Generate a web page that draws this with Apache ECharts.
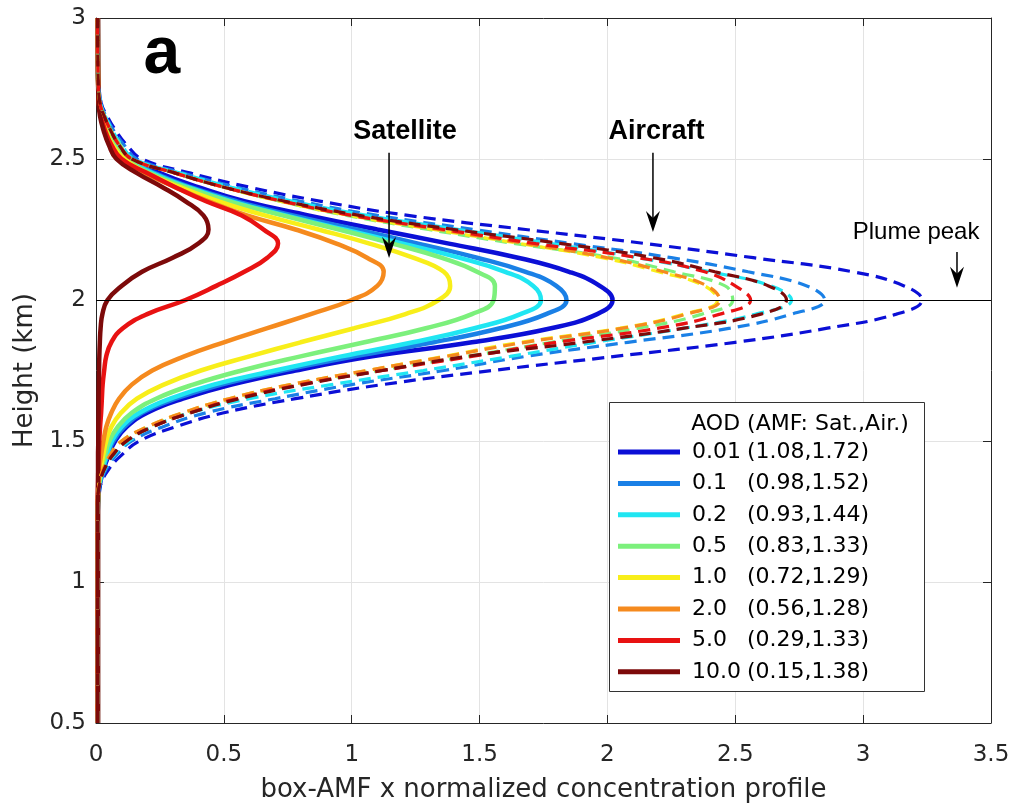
<!DOCTYPE html>
<html>
<head>
<meta charset="utf-8">
<script src="https://cdn.jsdelivr.net/npm/echarts@6/dist/echarts.min.js"></script>
<style>
html,body{margin:0;padding:0;background:#fff;}
#chart{width:1014px;height:809px;}
</style>
</head>
<body>
<div id="chart"></div>
<script>
// Heights (km) at which profile values were read
const H = [0.5, 1.25, 1.3, 1.35, 1.4, 1.45, 1.5, 1.55, 1.6, 1.65, 1.7, 1.75, 1.8, 1.85, 1.9, 1.95, 2.0, 2.05, 2.1, 2.15, 2.2, 2.25, 2.3, 2.35, 2.4, 2.45, 2.5, 2.55, 2.6, 2.65, 2.7, 2.8, 3.0];

// Satellite (solid) profiles
const sat001 = [0.007, 0.007, 0.009, 0.016, 0.03, 0.05, 0.075, 0.12, 0.2, 0.34, 0.53, 0.78, 1.08, 1.47, 1.78, 1.96, 2.02, 1.97, 1.85, 1.65, 1.38, 1.10, 0.83, 0.58, 0.40, 0.25, 0.14, 0.085, 0.05, 0.03, 0.015, 0.008, 0.007];
const sat01  = [0.007, 0.007, 0.009, 0.015, 0.028, 0.045, 0.068, 0.11, 0.18, 0.31, 0.49, 0.73, 1.01, 1.32, 1.58, 1.76, 1.84, 1.80, 1.68, 1.49, 1.26, 1.02, 0.77, 0.55, 0.37, 0.23, 0.13, 0.08, 0.048, 0.029, 0.014, 0.008, 0.007];
const sat02  = [0.007, 0.007, 0.009, 0.014, 0.026, 0.042, 0.062, 0.10, 0.17, 0.29, 0.46, 0.70, 0.96, 1.24, 1.48, 1.66, 1.74, 1.71, 1.60, 1.42, 1.20, 0.97, 0.74, 0.53, 0.36, 0.22, 0.125, 0.075, 0.045, 0.027, 0.013, 0.008, 0.007];
const sat05  = [0.007, 0.007, 0.008, 0.012, 0.022, 0.035, 0.052, 0.085, 0.14, 0.235, 0.38, 0.57, 0.80, 1.05, 1.29, 1.47, 1.555, 1.56, 1.49, 1.35, 1.16, 0.95, 0.73, 0.52, 0.35, 0.21, 0.12, 0.07, 0.042, 0.025, 0.012, 0.008, 0.007];
const sat1   = [0.007, 0.007, 0.008, 0.011, 0.018, 0.028, 0.04, 0.06, 0.098, 0.16, 0.265, 0.41, 0.60, 0.80, 1.01, 1.21, 1.34, 1.385, 1.36, 1.24, 1.07, 0.87, 0.66, 0.48, 0.33, 0.2, 0.11, 0.065, 0.04, 0.023, 0.012, 0.008, 0.007];
const sat2   = [0.007, 0.007, 0.008, 0.009, 0.012, 0.02, 0.029, 0.04, 0.06, 0.09, 0.14, 0.22, 0.345, 0.50, 0.67, 0.84, 1.0, 1.10, 1.125, 1.06, 0.94, 0.78, 0.59, 0.44, 0.31, 0.19, 0.1, 0.06, 0.037, 0.021, 0.011, 0.008, 0.007];
const sat5   = [0.007, 0.007, 0.007, 0.008, 0.009, 0.011, 0.013, 0.016, 0.02, 0.023, 0.026, 0.032, 0.04, 0.06, 0.105, 0.2, 0.35, 0.47, 0.58, 0.67, 0.712, 0.655, 0.57, 0.43, 0.31, 0.2, 0.1, 0.06, 0.035, 0.02, 0.011, 0.008, 0.007];
const sat10  = [0.008, 0.008, 0.008, 0.008, 0.008, 0.008, 0.009, 0.009, 0.01, 0.01, 0.011, 0.012, 0.013, 0.015, 0.018, 0.025, 0.045, 0.1, 0.18, 0.3, 0.40, 0.44, 0.42, 0.35, 0.26, 0.16, 0.08, 0.05, 0.03, 0.016, 0.01, 0.008, 0.008];

// Aircraft (dashed) profiles
const air001 = [0.006, 0.006, 0.008, 0.02, 0.05, 0.1, 0.17, 0.31, 0.5, 0.78, 1.12, 1.55, 2.03, 2.5, 2.86, 3.13, 3.23, 3.16, 2.96, 2.57, 2.15, 1.68, 1.22, 0.88, 0.6, 0.37, 0.18, 0.12, 0.078, 0.045, 0.02, 0.008, 0.006];
const air01  = [0.006, 0.006, 0.007, 0.018, 0.04, 0.08, 0.14, 0.26, 0.43, 0.70, 1.0, 1.36, 1.68, 2.08, 2.48, 2.72, 2.85, 2.78, 2.55, 2.25, 1.86, 1.48, 1.1, 0.8, 0.55, 0.34, 0.16, 0.11, 0.07, 0.04, 0.018, 0.008, 0.006];
const air02  = [0.006, 0.006, 0.007, 0.016, 0.035, 0.07, 0.13, 0.22, 0.37, 0.6, 0.92, 1.28, 1.62, 1.95, 2.3, 2.58, 2.72, 2.64, 2.4, 2.12, 1.78, 1.42, 1.06, 0.77, 0.53, 0.33, 0.15, 0.1, 0.065, 0.038, 0.017, 0.008, 0.006];
const air05  = [0.006, 0.006, 0.007, 0.013, 0.03, 0.06, 0.11, 0.21, 0.36, 0.54, 0.78, 1.1, 1.45, 1.78, 2.12, 2.37, 2.49, 2.46, 2.26, 2.02, 1.64, 1.3, 0.98, 0.72, 0.5, 0.31, 0.14, 0.095, 0.06, 0.035, 0.016, 0.008, 0.006];
const air1   = [0.006, 0.006, 0.007, 0.012, 0.028, 0.055, 0.1, 0.2, 0.34, 0.52, 0.76, 1.06, 1.36, 1.66, 2.05, 2.3, 2.43, 2.38, 2.2, 1.98, 1.66, 1.32, 0.99, 0.72, 0.5, 0.31, 0.14, 0.09, 0.058, 0.033, 0.015, 0.008, 0.006];
const air2   = [0.006, 0.006, 0.007, 0.012, 0.028, 0.055, 0.1, 0.2, 0.34, 0.52, 0.76, 1.06, 1.37, 1.68, 2.06, 2.31, 2.44, 2.39, 2.22, 2.0, 1.68, 1.34, 1.0, 0.73, 0.5, 0.31, 0.14, 0.09, 0.058, 0.033, 0.015, 0.008, 0.006];
const air5   = [0.006, 0.006, 0.007, 0.015, 0.032, 0.065, 0.12, 0.22, 0.37, 0.55, 0.8, 1.12, 1.47, 1.8, 2.2, 2.44, 2.56, 2.5, 2.38, 2.12, 1.72, 1.36, 1.0, 0.73, 0.5, 0.31, 0.14, 0.09, 0.058, 0.033, 0.015, 0.008, 0.006];
const air10  = [0.006, 0.006, 0.007, 0.015, 0.033, 0.066, 0.12, 0.22, 0.37, 0.56, 0.81, 1.12, 1.45, 1.9, 2.3, 2.6, 2.7, 2.63, 2.42, 2.18, 1.82, 1.4, 1.03, 0.74, 0.5, 0.31, 0.14, 0.09, 0.058, 0.033, 0.015, 0.008, 0.006];

// Legend labels
const aodLabels = ['0.01', '0.1', '0.2', '0.5', '1.0', '2.0', '5.0', '10.0'];
const amfSat = [1.08, 0.98, 0.93, 0.83, 0.72, 0.56, 0.29, 0.15];
const amfAir = [1.72, 1.52, 1.44, 1.33, 1.29, 1.28, 1.33, 1.38];

// Axis ticks
const xTicks = [0, 0.5, 1, 1.5, 2, 2.5, 3, 3.5];
const yTicks = [0.5, 1, 1.5, 2, 2.5, 3];

const SAT = [sat001, sat01, sat02, sat05, sat1, sat2, sat5, sat10];
const AIR = [air001, air01, air02, air05, air1, air2, air5, air10];
const COLORS = ['#0b0fd6', '#1a80e6', '#20e6f2', '#7cf07c', '#f8ee1a', '#f58a1e', '#e81212', '#7d0a0a'];

const chart = echarts.init(document.getElementById('chart'), null, {renderer: 'canvas'});

const series = [];
SAT.forEach((vals, i) => {
  series.push({
    name: aodLabels[i], type: 'line', showSymbol: false, smooth: 0.45,
    color: COLORS[i],
    lineStyle: {width: 4.5, color: COLORS[i]},
    data: H.map((h, k) => [vals[k], h]),
    z: 2
  });
});
AIR.forEach((vals, i) => {
  series.push({
    name: aodLabels[i] + ' air', type: 'line', showSymbol: false, smooth: 0.45,
    color: COLORS[i],
    lineStyle: {width: 3.2, color: COLORS[i], type: [12, 7]},
    data: H.map((h, k) => [vals[k], h]),
    z: 2
  });
});
series[series.length - 1].markLine = {
  silent: true, symbol: 'none', label: {show: false},
  lineStyle: {color: '#000', width: 1, type: 'solid'},
  data: [{yAxis: 2}]
};

const axisCol = '#262626';
const tickFont = {color: axisCol, fontSize: 23, fontFamily: 'DejaVu Sans'};

const option = {
  animation: false,
  backgroundColor: '#fff',
  grid: {left: 96, right: 23, top: 18, bottom: 86},
  xAxis: [
    {
      type: 'value', min: xTicks[0], max: xTicks[xTicks.length - 1], interval: 0.5,
      position: 'bottom',
      axisLine: {show: true, onZero: false, lineStyle: {color: axisCol, width: 1}},
      axisTick: {show: true, inside: true, length: 8, lineStyle: {color: axisCol}},
      axisLabel: Object.assign({margin: 21}, tickFont),
      splitLine: {show: true, lineStyle: {color: '#e3e3e3', width: 1}},
      name: 'box-AMF x normalized concentration profile',
      nameLocation: 'middle', nameGap: 54,
      nameTextStyle: {color: axisCol, fontSize: 26, fontFamily: 'DejaVu Sans'}
    },
    {
      type: 'value', min: xTicks[0], max: xTicks[xTicks.length - 1], interval: 0.5,
      position: 'top',
      axisLine: {show: true, onZero: false, lineStyle: {color: axisCol, width: 1}},
      axisTick: {show: true, inside: true, length: 8, lineStyle: {color: axisCol}},
      axisLabel: {show: false}, splitLine: {show: false}
    }
  ],
  yAxis: [
    {
      type: 'value', min: yTicks[0], max: yTicks[yTicks.length - 1], interval: 0.5,
      position: 'left',
      axisLine: {show: true, onZero: false, lineStyle: {color: axisCol, width: 1}},
      axisTick: {show: true, inside: true, length: 8, lineStyle: {color: axisCol}},
      axisLabel: Object.assign({margin: 10}, tickFont),
      splitLine: {show: true, lineStyle: {color: '#e3e3e3', width: 1}},
      name: 'Height (km)', nameLocation: 'middle', nameGap: 48,
      nameTextStyle: {color: axisCol, fontSize: 26, fontFamily: 'DejaVu Sans'}
    },
    {
      type: 'value', min: yTicks[0], max: yTicks[yTicks.length - 1], interval: 0.5,
      position: 'right',
      axisLine: {show: true, onZero: false, lineStyle: {color: axisCol, width: 1}},
      axisTick: {show: true, inside: true, length: 8, lineStyle: {color: axisCol}},
      axisLabel: {show: false}, splitLine: {show: false}
    }
  ],
  legend: {
    show: true, orient: 'vertical', left: 618, top: 441, padding: 0,
    itemWidth: 62, itemHeight: 5, itemGap: 9.4, icon: 'rect',
    selectedMode: false, z: 10,
    data: aodLabels,
    formatter: function (name) {
      const i = aodLabels.indexOf(name);
      return '{a|' + name + '}{b|(' + amfSat[i].toFixed(2) + ',' + amfAir[i].toFixed(2) + ')}';
    },
    textStyle: {
      color: '#000', fontSize: 22, fontFamily: 'DejaVu Sans', lineHeight: 22,
      rich: {
        a: {fontSize: 22, fontFamily: 'DejaVu Sans', color: '#000', width: 55, padding: [0, 0, 0, 7], lineHeight: 22},
        b: {fontSize: 22, fontFamily: 'DejaVu Sans', color: '#000', lineHeight: 22}
      }
    }
  },
  series: series
};
chart.setOption(option);

// Annotations (data coordinates)
const labels = [
  {text: 'a', at: [0.258, 2.869], font: 'bold 66px "Liberation Sans", Arial, sans-serif'},
  {text: 'Satellite', at: [1.208, 2.596], font: 'bold 27px "Liberation Sans", Arial, sans-serif'},
  {text: 'Aircraft', at: [2.192, 2.596], font: 'bold 27px "Liberation Sans", Arial, sans-serif'},
  {text: 'Plume peak', at: [3.207, 2.241], font: '24px "Liberation Sans", Arial, sans-serif'}
];
const arrows = [
  {from: [1.146, 2.522], to: [1.146, 2.149]},
  {from: [2.178, 2.522], to: [2.178, 2.241]},
  {from: [3.367, 2.170], to: [3.367, 2.043]}
];

function px(p) { return chart.convertToPixel({xAxisIndex: 0, yAxisIndex: 0}, p); }

const g = [];
g.push({type: 'rect', z: 3, shape: {x: 609.5, y: 402.5, width: 315, height: 289},
  style: {fill: '#fff', stroke: '#333', lineWidth: 1}});
g.push({type: 'text', z: 11, x: 800, y: 424,
  style: {text: 'AOD (AMF: Sat.,Air.)', fontSize: 22, fontFamily: 'DejaVu Sans', fill: '#000', align: 'center', verticalAlign: 'middle'}});
labels.forEach(l => {
  const p = px(l.at);
  g.push({type: 'text', z: 11, x: p[0], y: p[1],
    style: {text: l.text, font: l.font, fill: '#000', align: 'center', verticalAlign: 'middle'}});
});
arrows.forEach(a => {
  const p1 = px(a.from), p2 = px(a.to);
  g.push({type: 'line', z: 11, shape: {x1: p1[0], y1: p1[1], x2: p2[0], y2: p2[1] - 6},
    style: {stroke: '#000', lineWidth: 1.5}});
  g.push({type: 'polygon', z: 11, shape: {points: [[p2[0], p2[1]], [p2[0] - 7, p2[1] - 21], [p2[0], p2[1] - 14], [p2[0] + 7, p2[1] - 21]]},
    style: {fill: '#000'}});
});
chart.setOption({graphic: {elements: g}});
</script>
</body>
</html>
